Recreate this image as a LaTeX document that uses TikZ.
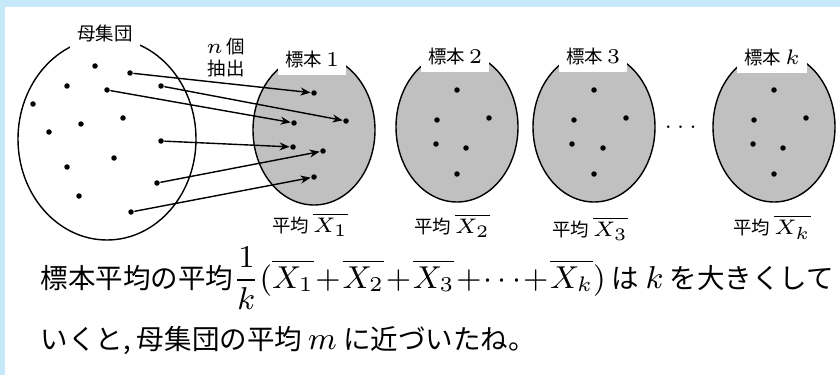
\documentclass[tikz,border=0pt]{standalone}
\usepackage{amsmath}
\usepackage{fontspec}
\usetikzlibrary{arrows.meta}
\newfontfamily\jafont{Noto Sans CJK JP}[Scale=0.92]
\newfontfamily\jamain{Noto Sans CJK JP}[Scale=0.86]
\definecolor{FrameBlue}{HTML}{C5E9F8}
\definecolor{SampleGray}{HTML}{C0C0C0}

\begin{document}
\begin{tikzpicture}[x=1cm,y=1cm,>={Stealth[length=1mm,width=0.8mm]},
    every node/.style={font=\fontsize{5.7}{6}\selectfont\jafont},
    smalldot/.style={circle,fill=black,inner sep=0pt,minimum size=0.055cm},
    cutlabel/.style={fill=white,inner sep=0.07cm},
    textline/.style={anchor=base west,inner sep=0pt,font=\fontsize{9.1}{11}\selectfont\jamain}]
    \useasboundingbox (0,0) rectangle (8.40,3.75);
    \fill[FrameBlue] (0,0) rectangle (8.40,3.75);
    \fill[white] (0.05,0) rectangle (8.40,3.68);

    % population
    \draw (1.07,2.36) ellipse [x radius=0.89,y radius=1.01];
    \node[cutlabel] (poplabel) at (1.05,3.42) {母集団};
    \node[smalldot] (p1) at (0.95,3.09) {};  \node[smalldot] (p2) at (1.30,3.02) {};
    \node[smalldot] (p3) at (0.67,2.89) {};  \node[smalldot] (p4) at (1.61,2.89) {};
    \node[smalldot] (p5) at (1.07,2.85) {};  \node[smalldot] (p6) at (0.33,2.71) {};
    \node[smalldot] (p7) at (1.23,2.57) {};  \node[smalldot] (p8) at (0.81,2.51) {};
    \node[smalldot] (p9) at (0.49,2.43) {};  \node[smalldot] (p10) at (1.61,2.34) {};
    \node[smalldot] (p11) at (1.14,2.17) {}; \node[smalldot] (p12) at (0.67,2.08) {};
    \node[smalldot] (p13) at (1.57,1.92) {}; \node[smalldot] (p14) at (0.79,1.79) {};
    \node[smalldot] (p15) at (1.31,1.63) {};
    \node[align=center] (pick) at (2.26,3.175) {$n$ 個\\抽出};

    % samples
    \draw[fill=SampleGray] (3.14,2.45) ellipse [x radius=0.61,y radius=0.75];
    \draw[fill=SampleGray] (4.57,2.48) ellipse [x radius=0.61,y radius=0.75];
    \draw[fill=SampleGray] (5.94,2.48) ellipse [x radius=0.61,y radius=0.75];
    \draw[fill=SampleGray] (7.74,2.48) ellipse [x radius=0.61,y radius=0.75];
    \node[cutlabel] (lab1) at (3.12,3.15) {標本 $1$};
    \node[cutlabel] (lab2) at (4.55,3.18) {標本 $2$};
    \node[cutlabel] (lab3) at (5.93,3.18) {標本 $3$};
    \node[cutlabel] (labk) at (7.72,3.17) {標本 $k$};

    \node[smalldot] (s1a) at (3.14,2.82) {}; \node[smalldot] (s1b) at (2.94,2.52) {};
    \node[smalldot] (s1c) at (3.46,2.54) {}; \node[smalldot] (s1d) at (2.93,2.28) {};
    \node[smalldot] (s1e) at (3.23,2.24) {}; \node[smalldot] (s1f) at (3.14,1.98) {};
    \node[smalldot] (s2a) at (4.57,2.85) {}; \node[smalldot] (s2b) at (4.37,2.55) {};
    \node[smalldot] (s2c) at (4.89,2.57) {}; \node[smalldot] (s2d) at (4.36,2.31) {};
    \node[smalldot] (s2e) at (4.66,2.27) {}; \node[smalldot] (s2f) at (4.57,2.01) {};
    \node[smalldot] (s3a) at (5.94,2.85) {}; \node[smalldot] (s3b) at (5.74,2.55) {};
    \node[smalldot] (s3c) at (6.26,2.57) {}; \node[smalldot] (s3d) at (5.72,2.31) {};
    \node[smalldot] (s3e) at (6.03,2.27) {}; \node[smalldot] (s3f) at (5.94,2.01) {};
    \node[smalldot] (ska) at (7.74,2.85) {}; \node[smalldot] (skb) at (7.54,2.55) {};
    \node[smalldot] (skc) at (8.06,2.57) {}; \node[smalldot] (skd) at (7.53,2.31) {};
    \node[smalldot] (ske) at (7.83,2.27) {}; \node[smalldot] (skf) at (7.74,2.01) {};
    \node (more) at (6.83,2.48) {$\cdots$};

    \draw[->] (p2) -- (s1a);
    \draw[->] (p4) -- (s1c);
    \draw[->] (p5) -- (s1b);
    \draw[->] (p10) -- (s1d);
    \draw[->] (p13) -- (s1e);
    \draw[->] (p15) -- (s1f);

    \node (mean1) at (3.10,1.50) {平均 $\overline{X_1}$};
    \node (mean2) at (4.52,1.49) {平均 $\overline{X_2}$};
    \node (mean3) at (5.90,1.46) {平均 $\overline{X_3}$};
    \node (meank) at (7.72,1.48) {平均 $\overline{X_k}$};

    % conclusion
    \node[textline] (sumline) at (0.40,0.87)
      {標本平均の平均$\medmuskip=1mu\dfrac{1}{k}(\overline{X_1}+\overline{X_2}+\overline{X_3}+\cdots+\overline{X_k})$ は $k$ を大きくして};
    \node[textline] (endline) at (0.40,0.26)
      {いくと, 母集団の平均 $m$ に近づいたね。};
  \end{tikzpicture}
\end{document}
